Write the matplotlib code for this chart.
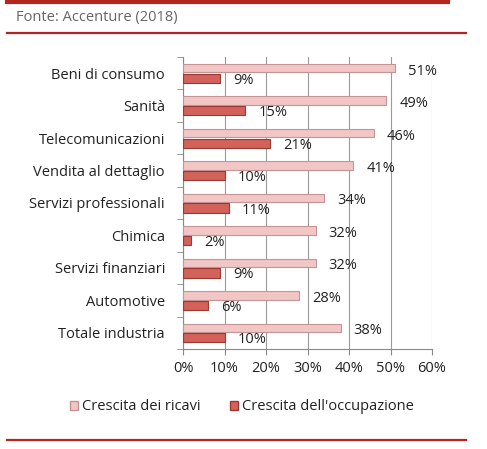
import matplotlib
matplotlib.use("Agg")
import matplotlib.pyplot as plt
from matplotlib.lines import Line2D
from matplotlib.patches import Patch
import numpy as np

plt.rcParams['font.family'] = ['Open Sans', 'DejaVu Sans']

categories = ["Beni di consumo", "Sanità", "Telecomunicazioni", "Vendita al dettaglio",
              "Servizi professionali", "Chimica", "Servizi finanziari", "Automotive",
              "Totale industria"]
ricavi = [51, 49, 46, 41, 34, 32, 32, 28, 38]
occupazione = [9, 15, 21, 10, 11, 2, 9, 6, 10]
xticks = [0, 10, 20, 30, 40, 50, 60]
series_names = ["Crescita dei ricavi", "Crescita dell'occupazione"]
source = "Fonte: Accenture (2018)"

W, H = 487, 449
fig = plt.figure(figsize=(W / 100, H / 100), dpi=100)
ax = fig.add_axes([183 / W, 1 - 349 / H, (432 - 183) / W, (349 - 57) / H])

n = len(categories)
y = np.arange(n)
bh = 0.26
off = 0.155
c_ric = '#f3c6c6'
e_ric = '#c49494'
c_occ = '#d2625a'
e_occ = '#9a3a35'

ax.barh(y - off, ricavi, height=bh, color=c_ric, edgecolor=e_ric, linewidth=0.8, zorder=3)
ax.barh(y + off, occupazione, height=bh * 1.1, color=c_occ, edgecolor=e_occ, linewidth=0.8, zorder=3)

fs = 10.5
for i in range(n):
    ax.annotate(f"{ricavi[i]}%", (ricavi[i], y[i] - off), xytext=(13, -3),
                textcoords='offset pixels', va='center', ha='left', fontsize=fs, color='#222222')
    ax.annotate(f"{occupazione[i]}%", (occupazione[i], y[i] + off), xytext=(13, -2),
                textcoords='offset pixels', va='center', ha='left', fontsize=fs, color='#222222')

ax.set_xlim(0, 60)
ax.set_ylim(n - 0.5, -0.5)
ax.set_xticks(xticks)
ax.set_xticklabels([f"{v}%" for v in xticks], fontsize=fs, color='#222222')
ax.set_yticks(y)
ax.set_yticklabels(categories, fontsize=fs, color='#222222')
ax.tick_params(axis='y', length=0, pad=13)
ax.set_yticks(np.arange(n + 1) - 0.5, minor=True)
ax.tick_params(axis='y', which='minor', length=4, color='#888888', direction='out')
ax.tick_params(axis='x', length=4, color='#888888', direction='out', pad=5)
ax.xaxis.grid(True, color='#9a9a9a', linewidth=0.8, zorder=0)
for s in ['top', 'right']:
    ax.spines[s].set_visible(False)
ax.spines['left'].set_color('#888888')
ax.spines['bottom'].set_color('#888888')

handles = [Patch(facecolor=c_ric, edgecolor=e_ric), Patch(facecolor=c_occ, edgecolor=e_occ)]
fig.legend(handles, series_names, loc='center', bbox_to_anchor=(242 / W, 1 - 407 / H),
           ncol=2, frameon=False, fontsize=fs, handlelength=0.55, handleheight=0.55,
           handletextpad=0.3, columnspacing=2.0, labelcolor='#222222')

red = '#b3261e'
fig.add_artist(Line2D([7 / W, 92 / W], [1 - 1.5 / H, 1 - 1.5 / H], color=red, linewidth=3, transform=fig.transFigure))
fig.add_artist(Line2D([96 / W, 448 / W], [1 - 1.5 / H, 1 - 1.5 / H], color=red, linewidth=3, transform=fig.transFigure))
fig.text(16 / W, 1 - 18 / H, source, fontsize=fs, color='#666666', va='center', ha='left')
fig.add_artist(Line2D([7 / W, 466 / W], [1 - 32.5 / H, 1 - 32.5 / H], color=red, linewidth=1.6, transform=fig.transFigure))
fig.add_artist(Line2D([7 / W, 466 / W], [1 - 440 / H, 1 - 440 / H], color=red, linewidth=1.6, transform=fig.transFigure))

fig.savefig("out.png", dpi=100)
